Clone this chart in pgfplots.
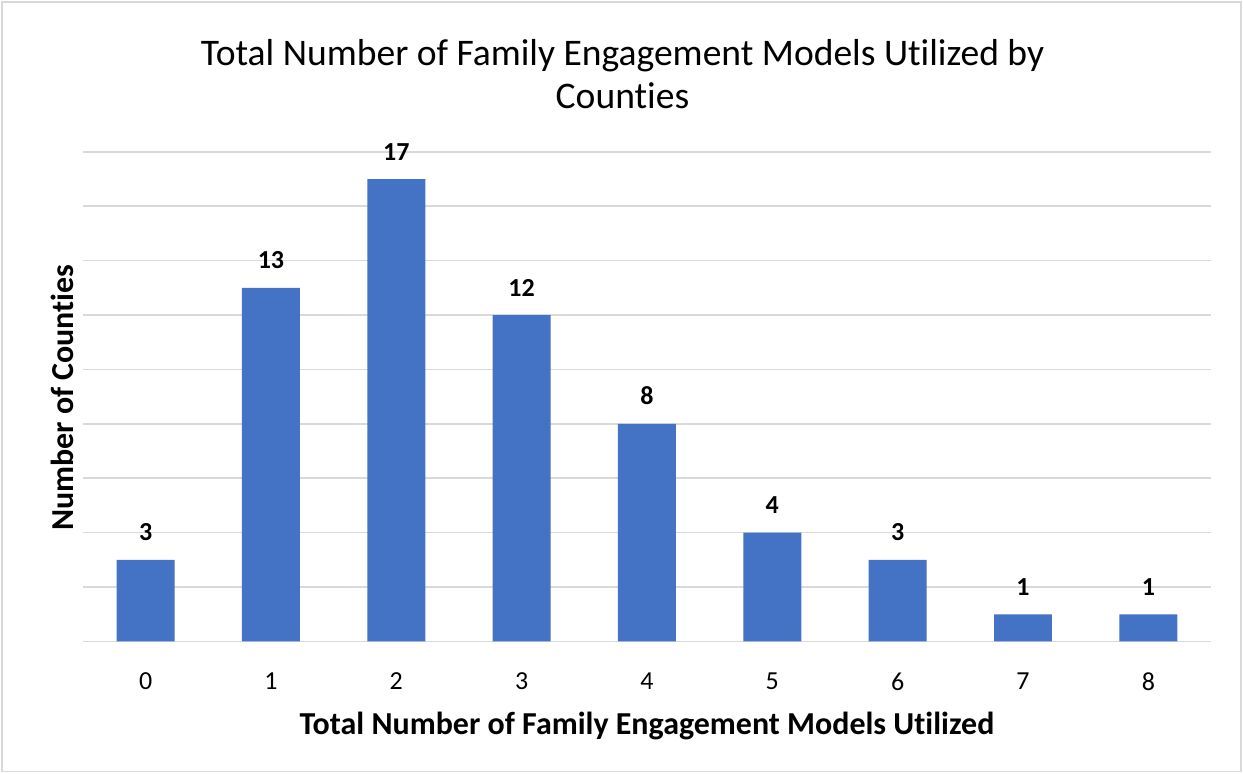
\documentclass[border=0pt]{standalone}
\usepackage{pgfplots}
\pgfplotsset{compat=1.18}
\usepackage{fontspec}
\setmainfont{Carlito}[Ligatures={NoCommon,NoContextual}]
\definecolor{barblue}{HTML}{4472C4}
\definecolor{gridgray}{HTML}{D9D9D9}

\begin{document}
\begin{tikzpicture}
% outer chart area, 1 px = 0.5pt, axis lower left at pixel (83,642)
\useasboundingbox (-41.5pt,-66pt) rectangle (580.5pt,321pt);
\draw[gridgray, line width=0.8pt] (-40.5pt,-65pt) rectangle (579.5pt,320pt);
\begin{axis}[
  at={(0pt,0pt)}, anchor=south west,
  scale only axis,
  width=564.5pt, height=245pt,
  xmin=-0.5, xmax=8.5,
  ymin=0, ymax=18,
  ybar, bar width=29pt,
  axis x line*=bottom,
  axis y line*=left,
  x axis line style={gridgray, line width=0.8pt, -},
  y axis line style={draw=none},
  xtick=data,
  major tick length=0pt,
  ytick={0,2,...,18},
  yticklabels={},
  ymajorgrids,
  grid style={gridgray, line width=0.8pt},
  xticklabel style={font=\fontsize{13}{15}\selectfont, yshift=-12pt},
  /pgf/number format/assume math mode=true,
  xlabel={\textbf{Total Number of Family Engagement Models Utilized}},
  xlabel style={font=\fontsize{16}{19}\selectfont, yshift=-4pt},
  nodes near coords,
  nodes near coords style={font=\fontsize{13}{15}\selectfont\bfseries, black, yshift=6pt},
  clip=false,
]
\addplot[fill=barblue, draw=none] coordinates {
  (0,3) (1,13) (2,17) (3,12) (4,8) (5,4) (6,3) (7,1) (8,1)
};
\end{axis}
\node[rotate=90, font=\fontsize{16}{19}\selectfont\bfseries] at (-10.5pt,122pt) {Number of Counties};
\node[align=center, font=\fontsize{18.8}{21.5}\selectfont] at (270pt,284pt) {Total Number of Family Engagement Models Utilized by\\Counties};
\end{tikzpicture}
\end{document}
